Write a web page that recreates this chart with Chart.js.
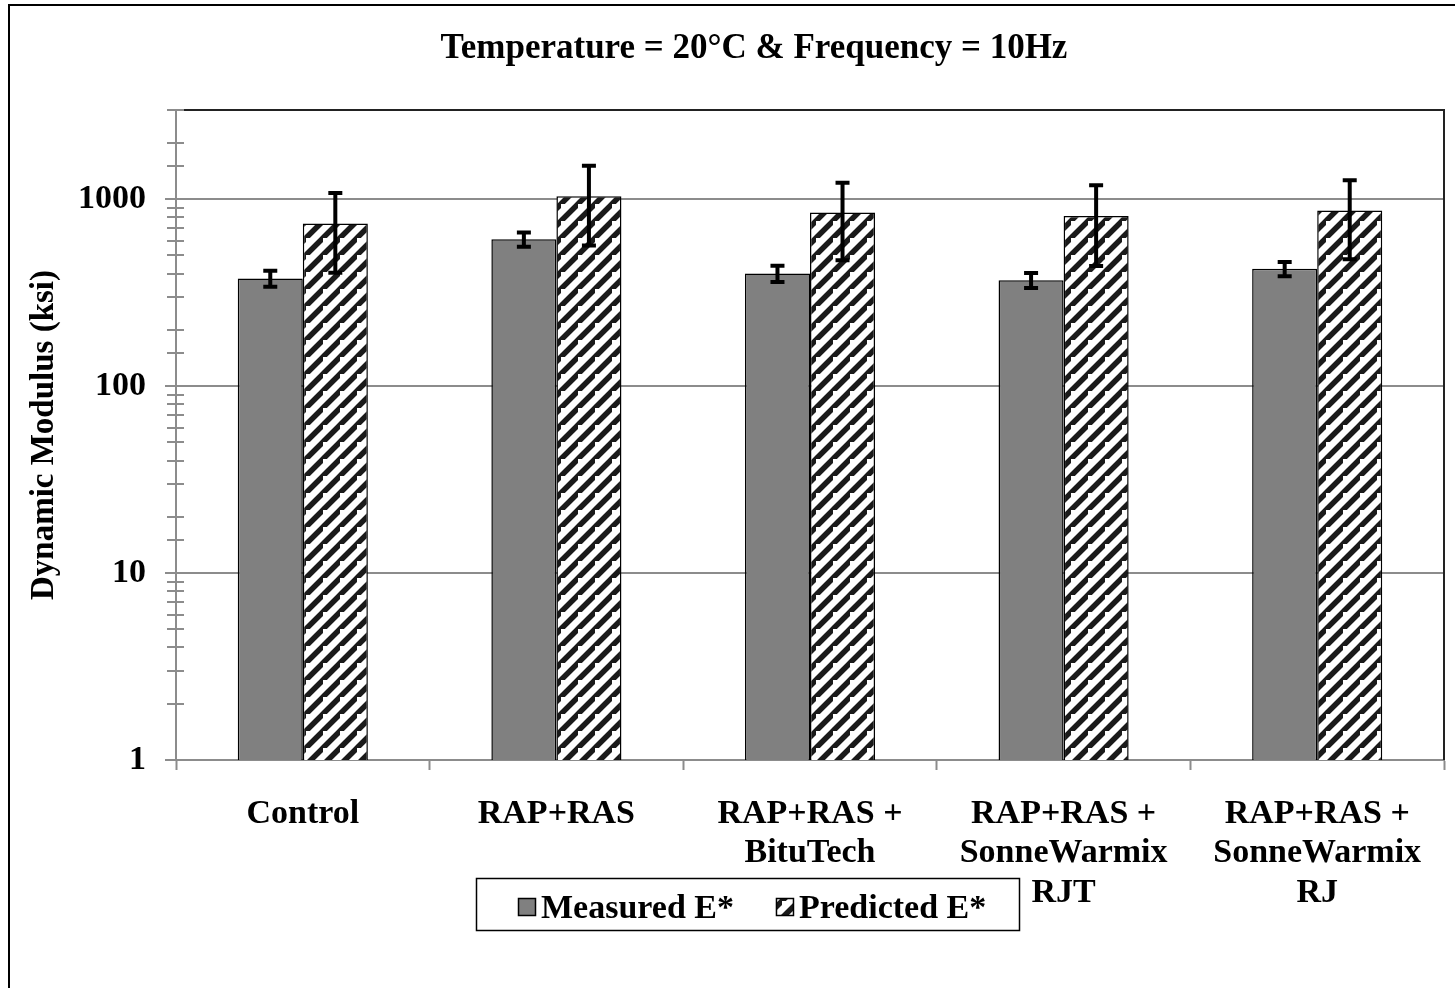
<!DOCTYPE html>
<html>
<head>
<meta charset="utf-8">
<title>Dynamic Modulus</title>
<script src="https://cdn.jsdelivr.net/npm/chart.js@4/dist/chart.umd.min.js"></script>
<style>
  html, body { margin: 0; padding: 0; background: #fff; overflow: hidden; }
  #wrap { width: 1455px; height: 988px; position: relative; }
</style>
</head>
<body>
<div id="wrap"><canvas id="chart"></canvas></div>
<script>
// mixes on the x axis (multi-line labels)
const mixes = [
    ['Control'],
    ['RAP+RAS'],
    ['RAP+RAS +', 'BituTech'],
    ['RAP+RAS +', 'SonneWarmix', 'RJT'],
    ['RAP+RAS +', 'SonneWarmix', 'RJ']
];

// dynamic modulus in ksi, with +/- error
const measured = [377, 610, 401, 369, 424];
const measuredErr = [37, 54, 40, 34, 37];
const predicted = [741, 1038, 849, 814, 870];
const predictedErr = [337, 472, 377, 375, 393];

const yMin = 1;
const yMax = 3000;

const serif = '"Liberation Serif", "Times New Roman", serif';
const grey = 'rgb(128, 128, 128)';
const axisGrey = 'rgb(140, 140, 140)';

// upward diagonal hatch for the predicted bars
function hatch() {
    const size = 17;
    const c = document.createElement('canvas');
    c.width = size; c.height = size;
    const g = c.getContext('2d');
    g.fillStyle = '#fff';
    g.fillRect(0, 0, size, size);
    g.strokeStyle = '#1a1a1a';
    g.lineWidth = 5.5;
    g.beginPath();
    g.moveTo(-size, size * 2); g.lineTo(size * 2, -size);
    g.moveTo(-size * 2, size); g.lineTo(size, -size * 2);
    g.moveTo(0, size * 2); g.lineTo(size * 2, 0);
    g.stroke();
    return g.createPattern(c, 'repeat');
}

const isDecade = v => Math.abs(Math.log10(v) - Math.round(Math.log10(v))) < 1e-9;

const errorBars = {
    id: 'errorBars',
    afterDatasetsDraw(chart) {
        const ctx = chart.ctx;
        const y = chart.scales.y;
        chart.data.datasets.forEach((ds, i) => {
            chart.getDatasetMeta(i).data.forEach((bar, j) => {
                const v = ds.data[j], e = ds.errors[j];
                const top = y.getPixelForValue(v + e);
                const bot = y.getPixelForValue(v - e);
                ctx.save();
                ctx.strokeStyle = '#000';
                ctx.lineWidth = 4;
                ctx.beginPath();
                ctx.moveTo(bar.x, top); ctx.lineTo(bar.x, bot);
                ctx.moveTo(bar.x - 7, top); ctx.lineTo(bar.x + 7, top);
                ctx.moveTo(bar.x - 7, bot); ctx.lineTo(bar.x + 7, bot);
                ctx.stroke();
                ctx.restore();
            });
        });
    }
};

const decor = {
    id: 'decor',
    afterDraw(chart) {
        const ctx = chart.ctx;
        const area = chart.chartArea;
        const y = chart.scales.y;
        ctx.save();

        // outer frame (left and top edges)
        ctx.fillStyle = '#000';
        ctx.fillRect(8, 4, 2, 984);
        ctx.fillRect(8, 4, 1447, 2);

        // plot area border
        ctx.strokeStyle = '#222';
        ctx.lineWidth = 2;
        ctx.beginPath();
        ctx.moveTo(area.left, area.top); ctx.lineTo(area.right, area.top);
        ctx.lineTo(area.right, area.bottom);
        ctx.stroke();

        // y ticks crossing the axis
        ctx.strokeStyle = axisGrey;
        ctx.lineWidth = 2;
        ctx.beginPath();
        y.ticks.forEach(t => {
            const py = Math.round(y.getPixelForValue(t.value));
            ctx.moveTo(area.left - (isDecade(t.value) ? 11 : 9), py);
            ctx.lineTo(area.left + 8, py);
        });
        ctx.stroke();

        // title
        ctx.fillStyle = '#000';
        ctx.font = 'bold 35px ' + serif;
        ctx.textAlign = 'center';
        ctx.textBaseline = 'alphabetic';
        ctx.fillText('Temperature = 20\u00B0C & Frequency = 10Hz', 754, 58);

        // legend
        ctx.font = 'bold 34px ' + serif;
        ctx.lineWidth = 1.5;
        ctx.strokeStyle = '#000';
        ctx.strokeRect(476.5, 878.5, 543, 52);
        let x = 518;
        ctx.textAlign = 'left';
        chart.data.datasets.forEach(ds => {
            ctx.fillStyle = ds.backgroundColor;
            ctx.fillRect(x, 898, 18, 18);
            ctx.lineWidth = 1.5;
            ctx.strokeRect(x + 0.5, 898.5, 17, 17);
            ctx.fillStyle = '#000';
            ctx.fillText(ds.label, x + 23, 918);
            x += 23 + ctx.measureText(ds.label).width + 42;
        });
        ctx.restore();
    }
};

const ctx = document.getElementById('chart').getContext('2d');

new Chart(ctx, {
    type: 'bar',
    data: {
        labels: mixes,
        datasets: [{
            label: 'Measured E*',
            data: measured,
            errors: measuredErr,
            backgroundColor: grey,
            borderColor: '#000',
            borderWidth: 1.5
        }, {
            label: 'Predicted E*',
            data: predicted,
            errors: predictedErr,
            backgroundColor: hatch(),
            borderColor: '#000',
            borderWidth: 1.5
        }]
    },
    options: {
        responsive: true,
        maintainAspectRatio: false,
        animation: false,
        events: [],
        categoryPercentage: 0.513,
        barPercentage: 1,
        layout: { padding: { left: 12, top: 110, right: 11, bottom: 0 } },
        plugins: {
            legend: { display: false },
            title: { display: false },
            tooltip: { enabled: false }
        },
        scales: {
            x: {
                afterFit: s => { s.height = 228; },
                grid: {
                    offset: true,
                    drawOnChartArea: false,
                    drawTicks: true,
                    tickLength: 10,
                    tickWidth: 2,
                    tickColor: axisGrey
                },
                border: { color: axisGrey, width: 2 },
                ticks: {
                    color: '#000',
                    padding: 25,
                    maxRotation: 0,
                    autoSkip: false,
                    font: { family: serif, size: 34, weight: 'bold', lineHeight: 1.15 }
                }
            },
            y: {
                type: 'logarithmic',
                min: yMin,
                max: yMax,
                afterFit: s => { s.width = 164; },
                grid: {
                    drawTicks: false,
                    lineWidth: 2,
                    color: c => (c.tick && isDecade(c.tick.value)) ? axisGrey : 'rgba(0,0,0,0)'
                },
                border: { color: axisGrey, width: 2 },
                ticks: {
                    color: '#000',
                    padding: 30,
                    autoSkip: false,
                    font: { family: serif, size: 34, weight: 'bold' },
                    callback: v => isDecade(v) ? String(Math.round(v)) : ''
                },
                title: {
                    display: true,
                    text: 'Dynamic Modulus (ksi)',
                    color: '#000',
                    padding: { top: 13, bottom: 0 },
                    font: { family: serif, size: 33, weight: 'bold' }
                }
            }
        }
    },
    plugins: [errorBars, decor]
});
</script>
</body>
</html>
